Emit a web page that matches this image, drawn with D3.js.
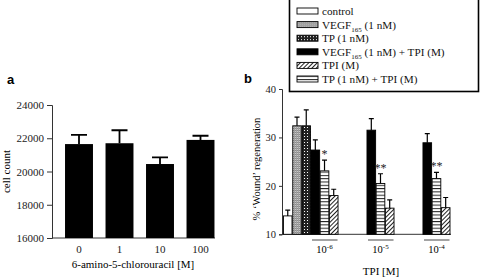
<!DOCTYPE html>
<html lang="en">
<head>
    <meta charset="UTF-8">
    <title>Cell count and wound regeneration</title>
    <script src="https://d3js.org/d3.v7.min.js"></script>
    <style>
        body { margin: 0; background: #fff; }
        svg text { font-family: "Liberation Serif", "Times New Roman", serif; }
        .tick text { font-size: 11px; fill: #222; }
        .panel-b .tick text { font-size: 10.5px; }
        .axis path, .axis line { stroke: #333; }
        svg text.panel-label { font-family: "Liberation Sans", Arial, sans-serif; font-weight: bold; font-size: 13px; }
        .legend-text { font-size: 11.2px; fill: #111; }
    </style>
</head>
<body>
<script>
    // panel a
    var aCats = ["0", "1", "10", "100"];
    var aMeans = [21650, 21700, 20450, 21900];
    var aErr = [550, 780, 400, 250];
    var aTicks = [16000, 18000, 20000, 22000, 24000];

    // panel b
    var ctrlCats = ["control", "VEGF", "TP"];
    var ctrlMeans = [13.8, 32.4, 32.4];
    var ctrlErr = [1.2, 1.8, 3.3];
    var tpiLevels = ["-6", "-5", "-4"];
    var seriesNames = ["VEGF+TPI", "TP+TPI", "TPI"];
    var vegfTpi = [27.4, 31.5, 28.9];
    var vegfTpiErr = [2.1, 2.4, 1.9];
    var tpTpi = [23.1, 20.5, 21.5];
    var tpTpiErr = [2.2, 2.0, 1.3];
    var tpiOnly = [18.0, 15.4, 15.5];
    var tpiOnlyErr = [1.3, 1.7, 2.1];
    var stars = ["*", "**", "**"];
    var bTicks = [10, 20, 30, 40];

    var w = 480, h = 278;
    var svg = d3.select("body").append("svg").attr("width", w).attr("height", h);

    // fill patterns
    var defs = svg.append("defs");
    var pGrid = defs.append("pattern").attr("id", "grid").attr("patternUnits", "userSpaceOnUse")
        .attr("width", 2).attr("height", 2);
    pGrid.append("rect").attr("width", 2).attr("height", 2).attr("fill", "#c8c8c8");
    pGrid.append("rect").attr("width", 2).attr("height", 1).attr("fill", "#8a8a8a");
    pGrid.append("rect").attr("width", 1).attr("height", 2).attr("fill", "#a0a0a0");

    var pCheck = defs.append("pattern").attr("id", "check").attr("patternUnits", "userSpaceOnUse")
        .attr("width", 3).attr("height", 3);
    pCheck.append("rect").attr("width", 3).attr("height", 3).attr("fill", "#222");
    pCheck.append("rect").attr("x", 1).attr("y", 1).attr("width", 1).attr("height", 1).attr("fill", "#fff");

    var pHor = defs.append("pattern").attr("id", "hor").attr("patternUnits", "userSpaceOnUse")
        .attr("width", 3).attr("height", 3.3);
    pHor.append("rect").attr("width", 3).attr("height", 3.3).attr("fill", "#fff");
    pHor.append("rect").attr("width", 3).attr("height", 1).attr("fill", "#222");

    var pDiag = defs.append("pattern").attr("id", "diag").attr("patternUnits", "userSpaceOnUse")
        .attr("width", 3).attr("height", 3).attr("patternTransform", "rotate(45)");
    pDiag.append("rect").attr("width", 3).attr("height", 3).attr("fill", "#fff");
    pDiag.append("rect").attr("width", 1).attr("height", 3).attr("fill", "#222");

    var fills = {
        "control": "#fff", "VEGF": "url(#grid)", "TP": "url(#check)",
        "VEGF+TPI": "#000", "TPI": "url(#diag)", "TP+TPI": "url(#hor)"
    };

    // ---------- panel a ----------
    var ax = d3.scaleBand().domain(aCats).range([58.75, 220.75]).paddingInner(0.31).paddingOuter(0.155);
    var ay = d3.scaleLinear().domain([16000, 24000]).range([238, 105]);
    var ga = svg.append("g");

    ga.append("g").attr("class", "axis")
        .attr("transform", "translate(52,0)")
        .call(d3.axisLeft(ay).tickValues(aTicks).tickSize(5).tickPadding(3).tickFormat(d3.format("d")));
    ga.append("line").attr("x1", 52).attr("x2", 215).attr("y1", ay(16000)).attr("y2", ay(16000))
        .attr("stroke", "#333");
    ga.append("g").attr("class", "axis")
        .attr("transform", "translate(0," + ay(16000) + ")")
        .call(d3.axisBottom(ax).tickSize(0).tickPadding(7))
        .select(".domain").remove();

    ga.selectAll(".bar").data(aMeans).enter().append("rect")
        .attr("x", function(d, i) { return ax(aCats[i]); })
        .attr("y", function(d) { return ay(d); })
        .attr("width", ax.bandwidth())
        .attr("height", function(d) { return ay(16000) - ay(d); })
        .attr("fill", "#000");
    ga.selectAll(".err").data(aMeans).enter().append("path")
        .attr("d", function(d, i) {
            var cx = ax(aCats[i]) + ax.bandwidth() / 2, top = ay(d + aErr[i]);
            return "M" + cx + "," + ay(d) + "V" + top + "M" + (cx - 8) + "," + top + "H" + (cx + 8);
        })
        .attr("stroke", "#000").attr("stroke-width", 1.8).attr("fill", "none");

    ga.append("text").attr("transform", "translate(10," + ay(20000) + ") rotate(-90)")
        .attr("text-anchor", "middle").attr("font-size", 11).text("cell count");
    ga.append("text").attr("x", 133).attr("y", 268).attr("text-anchor", "middle")
        .attr("font-size", 11).text("6-amino-5-chlorouracil [M]");
    ga.append("text").attr("class", "panel-label").attr("x", 7).attr("y", 84).text("a");

    // ---------- panel b ----------
    var by = d3.scaleLinear().domain([10, 40]).range([234.3, 89]);
    var ctrlX = d3.scaleBand().domain(ctrlCats).range([283.5, 310.5]).paddingInner(0.08);
    var groupX = d3.scaleBand().domain(tpiLevels).range([311, 450]).paddingInner(0.517);
    var seriesX = d3.scaleBand().domain(seriesNames).range([0, groupX.bandwidth()]).paddingInner(0.06);
    var gb = svg.append("g").attr("class", "panel-b");

    gb.append("g").attr("class", "axis")
        .attr("transform", "translate(282,0)")
        .call(d3.axisLeft(by).tickValues(bTicks).tickSize(3).tickPadding(3));
    gb.append("line").attr("x1", 282).attr("x2", 451).attr("y1", by(10)).attr("y2", by(10))
        .attr("stroke", "#333");

    var bars = [];
    ctrlCats.forEach(function(c, i) {
        bars.push({ x: ctrlX(c), w: ctrlX.bandwidth(), v: ctrlMeans[i], e: ctrlErr[i], fill: fills[c] });
    });
    var seriesVals = [vegfTpi, tpTpi, tpiOnly];
    var seriesErrs = [vegfTpiErr, tpTpiErr, tpiOnlyErr];
    tpiLevels.forEach(function(lvl, j) {
        seriesNames.forEach(function(s, k) {
            bars.push({ x: groupX(lvl) + seriesX(s), w: seriesX.bandwidth(), v: seriesVals[k][j],
                e: seriesErrs[k][j], fill: fills[s], star: s === "TP+TPI" ? stars[j] : null });
        });
    });

    gb.selectAll(".bar").data(bars).enter().append("rect")
        .attr("x", function(d) { return d.x; })
        .attr("y", function(d) { return by(d.v); })
        .attr("width", function(d) { return d.w; })
        .attr("height", function(d) { return by(10) - by(d.v); })
        .attr("fill", function(d) { return d.fill; })
        .attr("stroke", "#000").attr("stroke-width", 0.9);
    gb.selectAll(".err").data(bars).enter().append("path")
        .attr("d", function(d) {
            var cx = d.x + d.w / 2, top = by(d.v + d.e);
            return "M" + cx + "," + by(d.v) + "V" + top + "M" + (cx - 2.5) + "," + top + "H" + (cx + 2.5);
        })
        .attr("stroke", "#000").attr("stroke-width", 1.2).attr("fill", "none");
    gb.selectAll(".star").data(bars.filter(function(d) { return d.star; })).enter().append("text")
        .attr("x", function(d) { return d.x + d.w / 2; })
        .attr("y", function(d) { return by(d.v + d.e) - 2; })
        .attr("text-anchor", "middle").attr("font-size", 12).attr("fill", "#222")
        .text(function(d) { return d.star; });

    // group underlines and labels
    tpiLevels.forEach(function(lvl) {
        var x0 = groupX(lvl), cx = x0 + groupX.bandwidth() / 2;
        gb.append("line").attr("x1", x0 + 1).attr("x2", x0 + groupX.bandwidth() - 0.5)
            .attr("y1", 240).attr("y2", 240).attr("stroke", "#666").attr("stroke-width", 1.2);
        var t = gb.append("text").attr("x", cx).attr("y", 253).attr("text-anchor", "middle").attr("font-size", 10.5);
        t.append("tspan").text("10");
        t.append("tspan").attr("dy", -4).attr("font-size", 7).text(lvl);
    });

    gb.append("text").attr("x", 381).attr("y", 275).attr("text-anchor", "middle")
        .attr("font-size", 11).text("TPI [M]");
    gb.append("text").attr("transform", "translate(260," + 169 + ") rotate(-90)")
        .attr("text-anchor", "middle").attr("font-size", 10.5).text("% \u2018Wound\u2019 regeneration");
    gb.append("text").attr("class", "panel-label").attr("x", 244).attr("y", 83).text("b");

    // legend
    var legendItems = [
        { key: "control", parts: [["control"]] },
        { key: "VEGF", parts: [["VEGF"], ["165", "sub"], [" (1 nM)"]] },
        { key: "TP", parts: [["TP (1 nM)"]] },
        { key: "VEGF+TPI", parts: [["VEGF"], ["165", "sub"], [" (1 nM) + TPI (M)"]] },
        { key: "TPI", parts: [["TPI (M)"]] },
        { key: "TP+TPI", parts: [["TP (1 nM) + TPI (M)"]] }
    ];
    var lg = svg.append("g");
    lg.append("rect").attr("x", 289.5).attr("y", -3).attr("width", 189).attr("height", 94.5)
        .attr("fill", "#fff").attr("stroke", "#000").attr("stroke-width", 1.6);
    var rows = lg.selectAll(".row").data(legendItems).enter().append("g")
        .attr("transform", function(d, i) { return "translate(297," + (11 + i * 13.6) + ")"; });
    rows.append("rect").attr("x", 0).attr("y", -3).attr("width", 21).attr("height", 6)
        .attr("fill", function(d) { return fills[d.key]; })
        .attr("stroke", "#000").attr("stroke-width", 0.9);
    rows.each(function(d) {
        var t = d3.select(this).append("text").attr("class", "legend-text").attr("x", 25).attr("y", 4);
        d.parts.forEach(function(p) {
            if (p[1] === "sub") {
                t.append("tspan").attr("dy", 3).attr("font-size", 7).text(p[0]);
            } else {
                var ts = t.append("tspan").text(p[0]);
                if (t.selectAll("tspan").size() > 1) ts.attr("dy", -3);
            }
        });
    });
</script>
</body>
</html>
